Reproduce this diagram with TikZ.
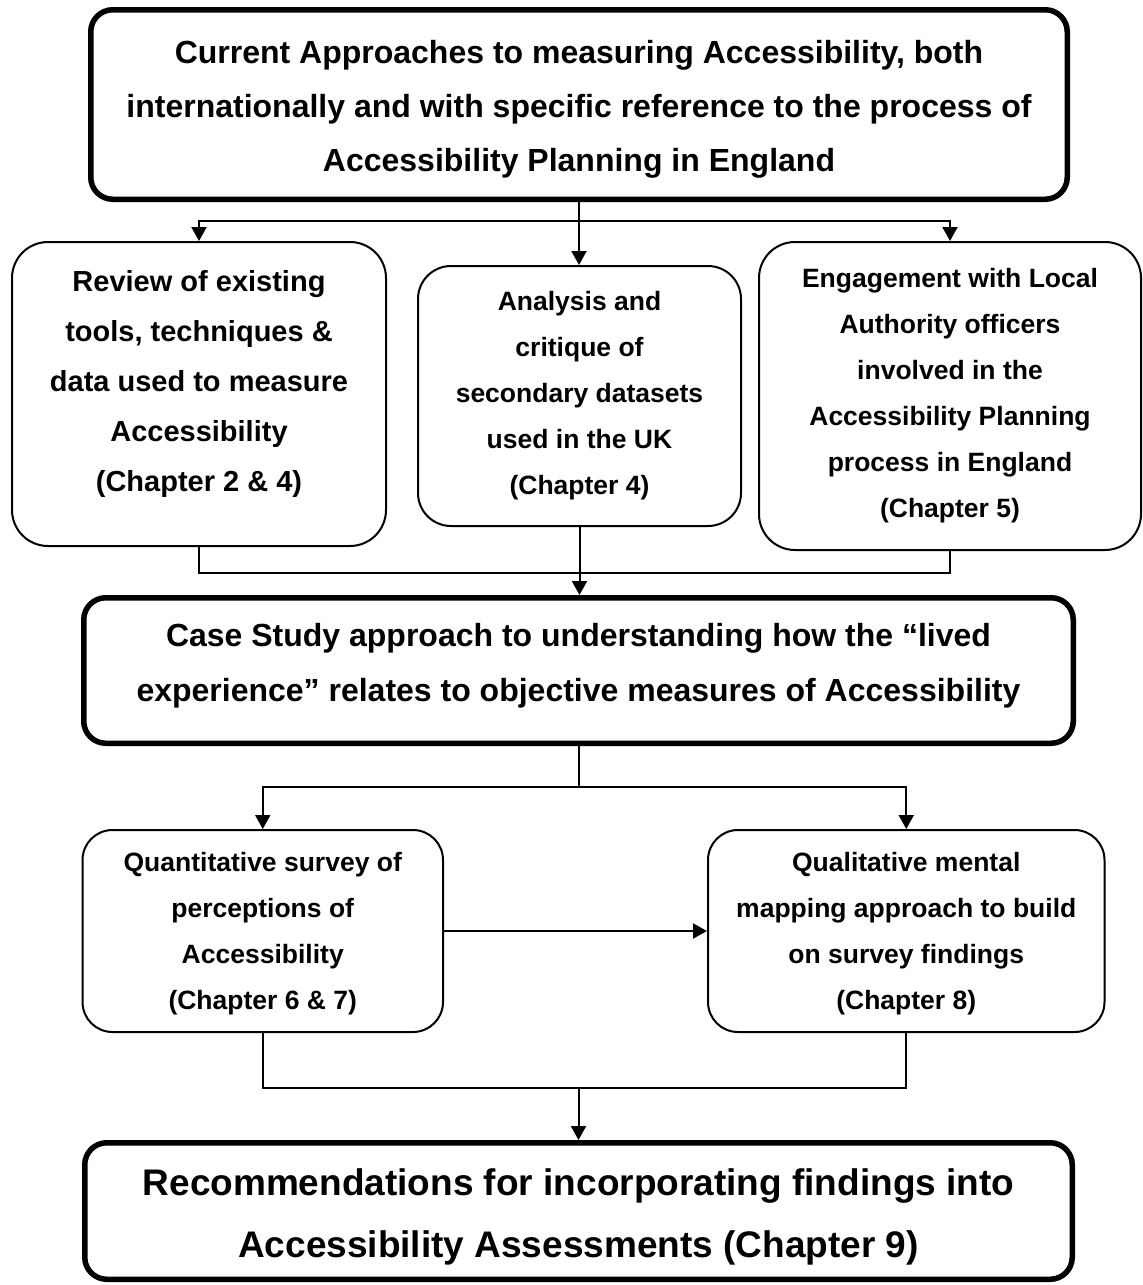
\documentclass[tikz,border=0pt]{standalone}
\usepackage{fontspec}
\setmainfont{Liberation Sans}
\usetikzlibrary{arrows.meta}

\begin{document}
\begin{tikzpicture}[x=1pt,y=-1pt,
  heavybox/.style={draw,line width=5.5pt,rounded corners=22pt,inner sep=0pt},
  lightbox/.style={draw,line width=2pt,rounded corners=36pt,inner sep=0pt},
  midbox/.style={draw,line width=2pt,rounded corners=30pt,inner sep=0pt},
  boxtext/.style={align=center,inner sep=0pt},
  smalltext/.style={boxtext,font=\bfseries\fontsize{26.5}{46}\selectfont},
  link/.style={line width=2pt},
  arr/.style={line width=2pt,-{Triangle[width=15pt,length=14pt]}},
]
\useasboundingbox (0,0) rectangle (1143,1285);

% ---- top level ----
\node[heavybox,minimum width=976.5pt,minimum height=189.5pt] (top) at (579,104.5) {};
\node[boxtext,font=\bfseries\fontsize{32}{54}\selectfont] (toptext) at (579,109)
  {Current Approaches to measuring Accessibility, both\\
   internationally and with specific reference to the process of\\
   Accessibility Planning in England};

% ---- three review strands ----
\node[lightbox,minimum width=374pt,minimum height=304pt] (lb) at (199,394) {};
\node[boxtext,font=\bfseries\fontsize{29}{50}\selectfont] (lbtext) at (199,384)
  {Review of existing\\ tools, techniques \&\\ data used to measure\\ Accessibility\\ (Chapter 2 \& 4)};

\node[lightbox,rounded corners=33pt,minimum width=323pt,minimum height=260pt] (mb) at (579.5,396) {};
\node[smalltext] (mbtext) at (579.5,396)
  {Analysis and\\ critique of\\ secondary datasets\\ used in the UK\\ (Chapter 4)};

\node[lightbox,minimum width=382pt,minimum height=308pt] (rb) at (950,396) {};
\node[smalltext] (rbtext) at (950,396)
  {Engagement with Local\\ Authority officers\\ involved in the\\ Accessibility Planning\\ process in England\\ (Chapter 5)};

% ---- case study ----
\node[heavybox,minimum width=989.5pt,minimum height=145.5pt] (cs) at (578.5,670.5) {};
\node[boxtext,font=\bfseries\fontsize{32}{55}\selectfont] (cstext) at (578.5,666)
  {Case Study approach to understanding how the “lived\\
   experience” relates to objective measures of Accessibility};

% ---- survey and mapping ----
\node[midbox,minimum width=360.5pt,minimum height=202pt] (qn) at (262.75,931) {};
\node[smalltext] (qntext) at (262.75,934)
  {Quantitative survey of\\ perceptions of\\ Accessibility\\ (Chapter 6 \& 7)};

\node[midbox,minimum width=396.5pt,minimum height=202pt] (ql) at (906.25,931) {};
\node[smalltext] (qltext) at (906.25,934)
  {Qualitative mental\\ mapping approach to build\\ on survey findings\\ (Chapter 8)};

% ---- recommendations ----
\node[heavybox,minimum width=987.5pt,minimum height=136.5pt] (rec) at (578.5,1211) {};
\node[boxtext,font=\bfseries\fontsize{37}{62}\selectfont] (rectext) at (578.5,1217)
  {Recommendations for incorporating findings into\\
   Accessibility Assessments (Chapter 9)};

% ---- connectors ----
\coordinate (j1) at (579,221);
\draw[link] (top.south) -- (j1);
\draw[arr] (j1) -| (lb.north);
\draw[arr] (j1) -| (rb.north);
\draw[arr] (j1) -- (j1 |- mb.north);

\coordinate (j2) at (579.5,573);
\draw[link] (lb.south) -- (lb.south |- j2) -- (rb.south |- j2) -- (rb.south);
\draw[arr] (mb.south) -- (mb.south |- cs.north);

\coordinate (j3) at (578.5,787);
\draw[link] (cs.south) -- (j3);
\draw[arr] (j3) -| (qn.north);
\draw[arr] (j3) -| (ql.north);

\draw[arr] (qn.east) -- (ql.west);

\coordinate (j4) at (578.5,1088);
\draw[link] (qn.south) -- (qn.south |- j4) -- (ql.south |- j4) -- (ql.south);
\draw[arr] (j4) -- (rec.north);
\end{tikzpicture}
\end{document}
